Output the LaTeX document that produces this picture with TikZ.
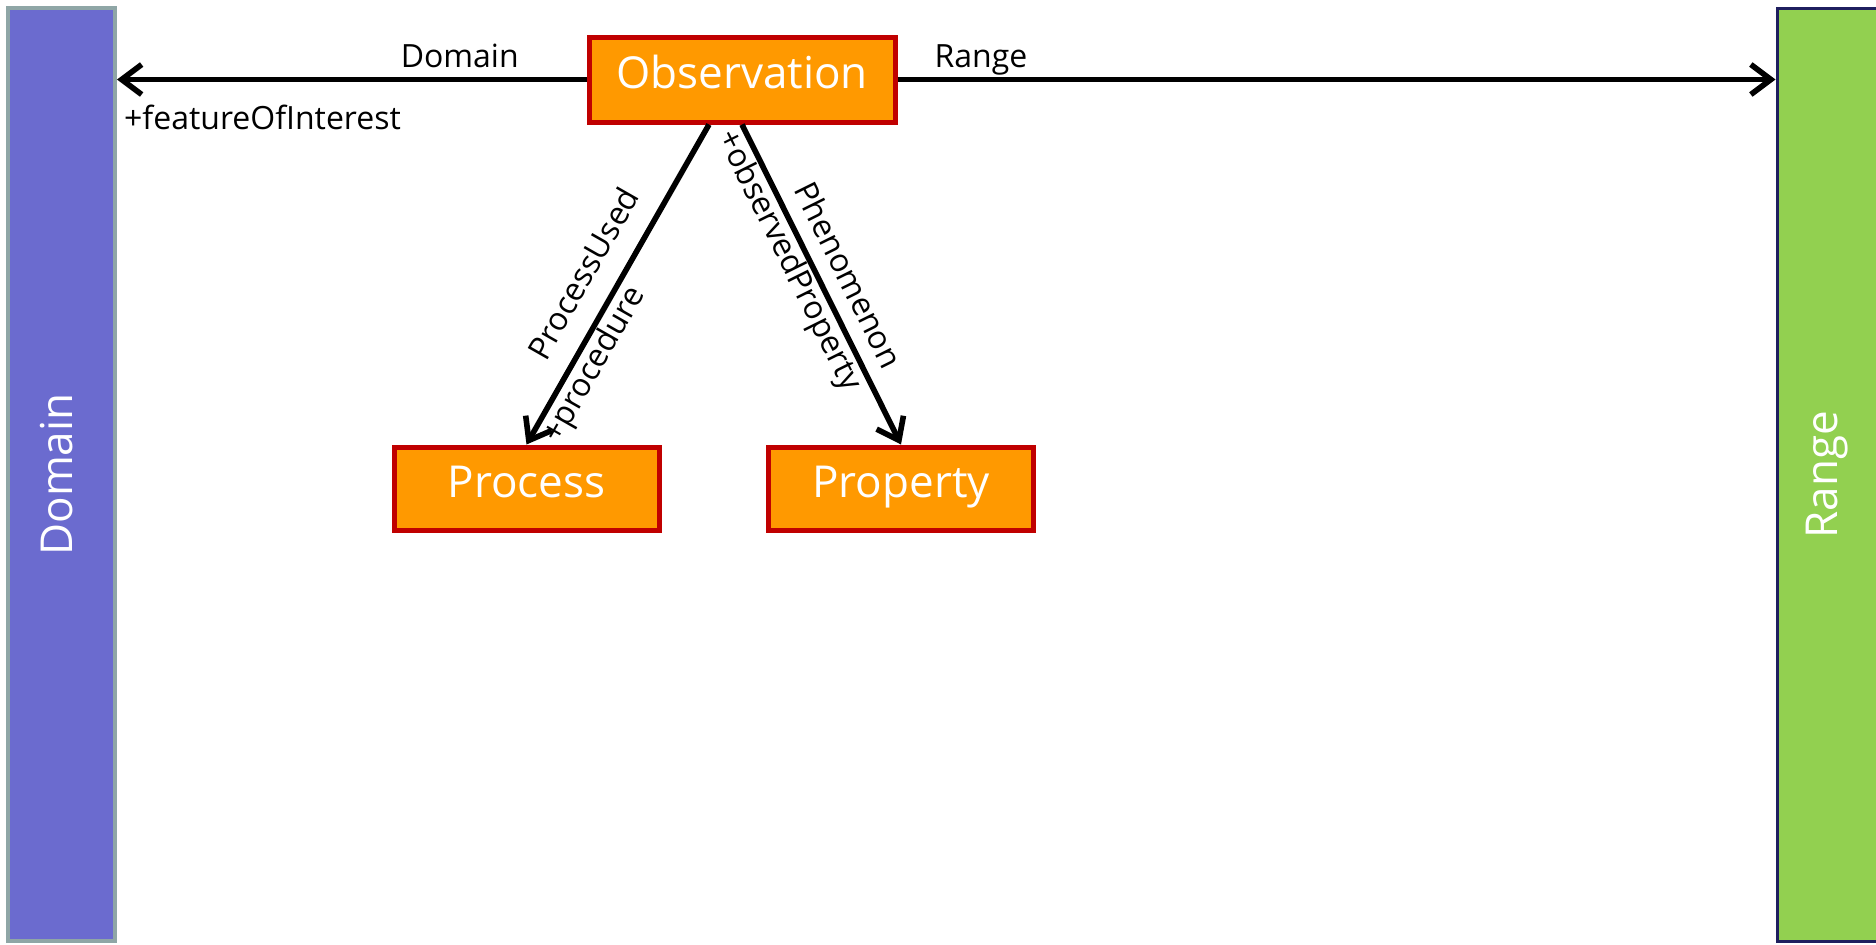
\documentclass[tikz,border=0pt]{standalone}
\usepackage{fontspec}
\setmainfont{Open Sans}
\usetikzlibrary{arrows.meta,calc}
\definecolor{obsorange}{HTML}{FF9900}
\definecolor{obsred}{HTML}{C00000}
\definecolor{domfill}{HTML}{6B6BCF}
\definecolor{domedge}{HTML}{8FA6A6}
\definecolor{rangefill}{HTML}{92D050}
\definecolor{rangeedge}{HTML}{1F1F5F}
\begin{document}
\begin{tikzpicture}[x = .5pt, y = -.5pt,
    classbox/.style = {draw = obsred, line width = 2.5pt, fill = obsorange,
      text = white, font = \fontsize{22}{26}\selectfont, inner sep = 0pt,
      text height = .92em, text depth = 0pt},
    bar/.style = {line width = 2pt, minimum height = 466.5pt, inner sep = 0pt},
    bartext/.style = {text = white, font = \fontsize{22}{26}\selectfont, rotate = 90},
    assoc/.style = {line width = 2.8pt, -{Straight Barb[length = 10pt, width = 15pt]}},
    role/.style = {font = \fontsize{16}{19}\selectfont, inner sep = 2pt,
      text height = .75em, text depth = .25em}]
  \useasboundingbox (0,0) rectangle (1876,944);

  % domain and range bars
  \node (dom) [bar, draw = domedge, fill = domfill, minimum width = 53.5pt,
    label = {[xshift = -2.5pt, bartext]center:Domain}] at (61.5,474.5) {};
  \node (rng) [bar, draw = rangeedge, line width = 1.5pt, fill = rangefill,
    minimum width = 50.5pt, label = {[bartext]center:Range}] at (1827.5,474.5) {};

  % classes
  \node (obs) [classbox, minimum width = 153pt, minimum height = 42.5pt]
    at (742,79.5) {Observation};
  \node (proc) [classbox, minimum width = 132.5pt, minimum height = 41.5pt]
    at (526.5,488.5) {Process};
  \node (prop) [classbox, minimum width = 132.5pt, minimum height = 41.5pt]
    at (901,488.5) {Property};

  % associations
  \draw [assoc] (obs.west) -- (obs.west -| dom.east)
    node [role, pos = .27, above] {Domain}
    node [role, pos = .69, below = 14pt] {+featureOfInterest};
  \draw [assoc] (obs.east) -- (obs.east -| rng.west)
    node [role, pos = .095, above] {Range};
  \draw [assoc] ($(obs.south) + (-33,0)$) -- (proc.north)
    node [role, pos = .52, above = 6pt, sloped] {ProcessUsed}
    node [role, pos = .72, below = 3.5pt, sloped] {+procedure};
  \draw [assoc] (obs.south) -- (prop.north)
    node [role, pos = .51, above = 2.5pt, sloped] {Phenomenon}
    node [role, pos = .40, below = 3pt, sloped] {+observedProperty};
\end{tikzpicture}
\end{document}
